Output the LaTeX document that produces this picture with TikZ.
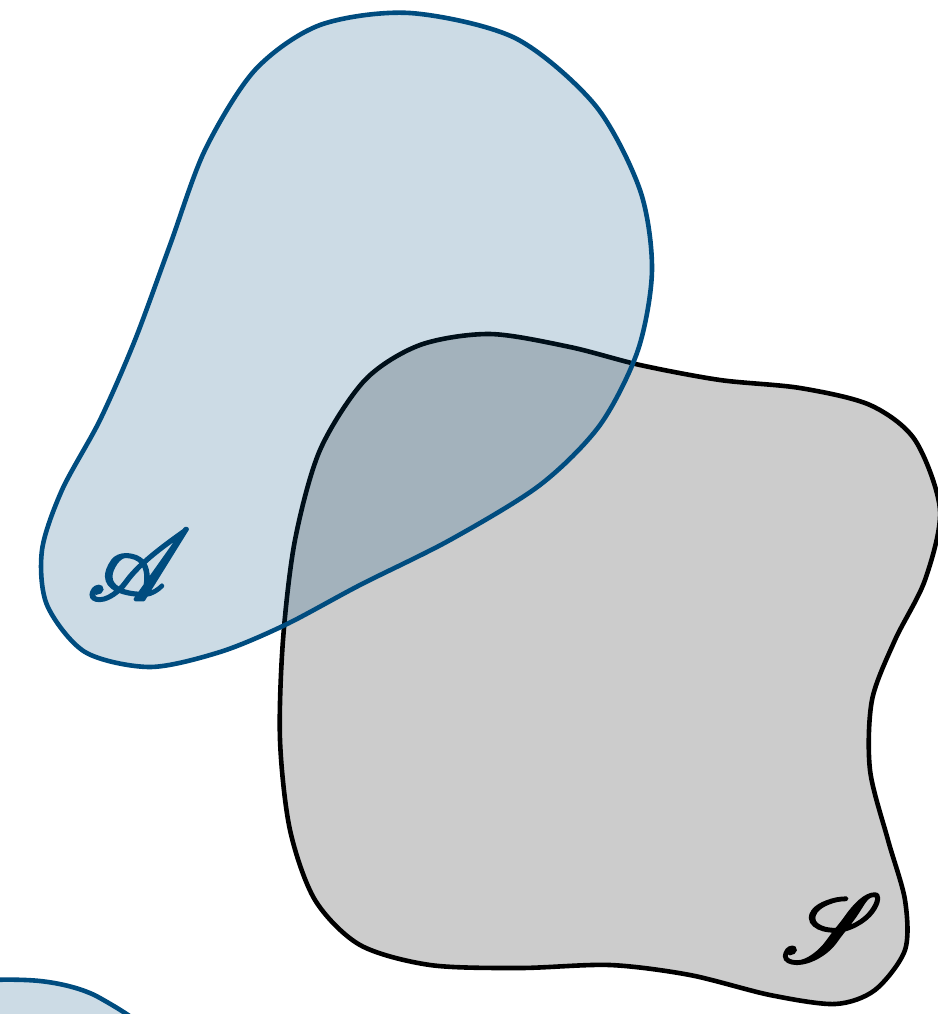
\documentclass[tikz,border=0pt]{standalone}
\usepackage{mathrsfs}
\definecolor{setblue}{RGB}{0,76,127}
% lettera con contorno, un po' piu' spessa
\newcommand{\thickscr}[1]{\special{pdf:literal 2 Tr 0.28 w}$\mathscr{#1}$\special{pdf:literal 0 Tr}}

\begin{document}
\begin{tikzpicture}[
    x=0.5pt, y=-0.5pt,
    setS/.style={draw=black, line width=2.3pt, fill=black!20},
    setA/.style={draw=setblue, line width=2.3pt, fill=setblue, fill opacity=0.2},
    lbl/.style={inner sep=0pt}
]
    \useasboundingbox (0,0) rectangle (938,1014);
    \clip (0,0) rectangle (938,1014);

    % Insieme S
    \draw[setS] plot[smooth cycle] coordinates {
        (490,334) (570,347) (640,365) (720,380) (800,388) (870,405) (915,440)
        (940,510) (925,580) (895,640) (872,700) (870,770) (888,840) (905,900)
        (905,950) (875,990) (835,1004) (770,995) (690,975) (610,965) (520,968)
        (430,965) (360,945) (315,900) (290,830) (280,740) (283,640) (295,540)
        (320,450) (365,380) (420,345)};

    % Insieme A
    \draw[setA] plot[smooth cycle] coordinates {
        (410,13) (515,38) (595,105) (640,190) (652,270) (638,350) (600,425)
        (540,485) (450,540) (360,585) (285,625) (220,652) (150,667) (85,652)
        (47,605) (42,550) (62,490) (100,420) (135,340) (170,245) (205,150)
        (255,70) (320,25)};

    % insieme in basso (tagliato)
    \draw[setA] plot[smooth cycle] coordinates {
        (-150,1100) (-110,1010) (-40,983) (40,981) (100,998) (160,1050)
        (130,1150) (0,1180)};

    % Etichette
    \node[lbl, text=setblue] (labA) at (139,565) {\scalebox{5}{\thickscr{A}}};
    \node[lbl] (labS) at (832,928) {\scalebox{4.8}{\thickscr{S}}};
\end{tikzpicture}
\end{document}
